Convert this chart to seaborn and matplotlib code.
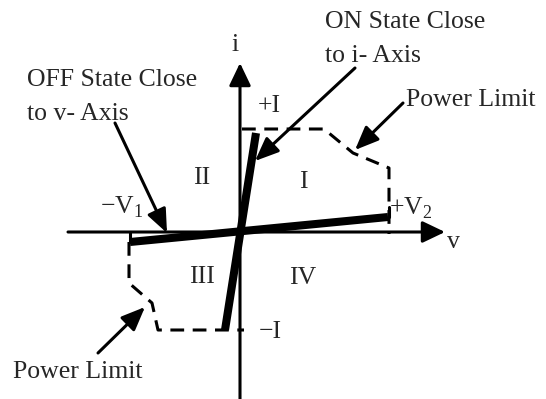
import matplotlib
matplotlib.use("Agg")
import matplotlib.pyplot as plt
import seaborn as sns
import pandas as pd

# ---- data (v, i) in diagram units, origin at the axes crossing ----
on_v = [-15, 16]
on_i = [-98, 99]
off_v = [-110, 148]
off_i = [-10, 15]
upper_limit_v = [2, 84, 113, 149, 149]
upper_limit_i = [103, 103, 79, 64, -2]
lower_limit_v = [-111, -111, -88, -82, 4]
lower_limit_i = [-10, -51, -71, -98, -98]
v_axis = [-172, 205]
i_axis = [-168, 169]

region_labels = ["II", "I", "III", "IV"]
region_v = [-38, 63, -38, 63]
region_i = [54, 50, -45, -46]

sns.set_theme(style="white")
plt.rcParams['font.family'] = ['Liberation Serif', 'DejaVu Serif']
plt.rcParams['mathtext.fontset'] = 'custom'
plt.rcParams['mathtext.rm'] = 'Liberation Serif'

fig = plt.figure(figsize=(5.46, 3.99), dpi=100)
ax = fig.add_axes([0, 0, 1, 1])
ax.set_xlim(-240, 306)
ax.set_ylim(-167, 232)
ax.axis("off")

FS = 18.5
LS = 1.75
arrow_kw = dict(arrowstyle="-|>,head_length=1.2,head_width=0.5", color="black",
                lw=2.2, shrinkA=0, shrinkB=0)
axis_arrow_kw = dict(arrowstyle="-|>,head_length=1.15,head_width=0.55", color="black",
                     lw=2.2, shrinkA=0, shrinkB=0)

# axes
ax.annotate("", xy=(v_axis[1], 0), xytext=(v_axis[0], 0), arrowprops=axis_arrow_kw)
ax.annotate("", xy=(0, i_axis[1]), xytext=(0, i_axis[0]), arrowprops=axis_arrow_kw)
ax.text(213, -10, "v", fontsize=FS, ha="center", va="center")
ax.text(-5, 187, "i", fontsize=FS, ha="center", va="center")

# power limits (dashed)
up = pd.DataFrame({"v": upper_limit_v, "i": upper_limit_i})
lo = pd.DataFrame({"v": lower_limit_v, "i": lower_limit_i})
for df in (up, lo):
    sns.lineplot(data=df, x="v", y="i", sort=False, estimator=None, ax=ax,
                 color="black", lw=2.2, linestyle=(0, (4.5, 2.8)))

# small solid ticks at the ends of the off-state line
sns.lineplot(x=[-110, -110], y=[0, -10], ax=ax, color="black", lw=2.2, estimator=None)
sns.lineplot(x=[149, 149], y=[25, 15], ax=ax, color="black", lw=2.2, estimator=None)

# ON and OFF states (thick)
sns.lineplot(x=on_v, y=on_i, ax=ax, color="black", lw=5.8, estimator=None,
             solid_capstyle="butt")
sns.lineplot(x=off_v, y=off_i, ax=ax, color="black", lw=5.8, estimator=None,
             solid_capstyle="butt")

# region labels
for lab, x, y in zip(region_labels, region_v, region_i):
    ax.text(x, y, lab, fontsize=FS, ha="center", va="center")

ax.text(29, 126, "+I", fontsize=FS, ha="center", va="center")
ax.text(30, -100, "\u2212I", fontsize=FS, ha="center", va="center")
ax.text(-118, 25, r"$-\mathrm{V}_1$", fontsize=FS, ha="center", va="center")
ax.text(171, 24, r"$+\mathrm{V}_2$", fontsize=FS, ha="center", va="center")

# annotations
ax.annotate("", xy=(15, 71), xytext=(115, 164), arrowprops=arrow_kw)
ax.text(85, 193, "ON State Close\nto i- Axis", fontsize=FS, ha="left",
        va="center", linespacing=LS)
ax.annotate("", xy=(115, 82), xytext=(163, 129), arrowprops=arrow_kw)
ax.text(166, 132, "Power Limit", fontsize=FS, ha="left", va="center")
ax.annotate("", xy=(-73, -1), xytext=(-125, 109), arrowprops=arrow_kw)
ax.text(-213, 135, "OFF State Close\nto v- Axis", fontsize=FS, ha="left",
        va="center", linespacing=LS)
ax.annotate("", xy=(-95, -75), xytext=(-142, -121), arrowprops=arrow_kw)
ax.text(-227, -140, "Power Limit", fontsize=FS, ha="left", va="center")

fig.savefig("out.png", dpi=100)
